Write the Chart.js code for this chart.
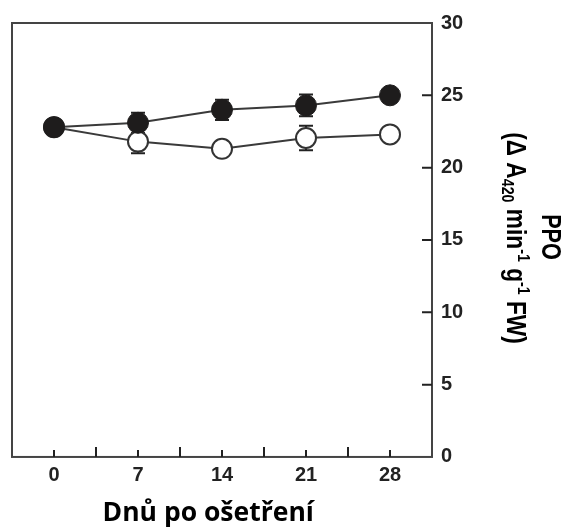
<!DOCTYPE html>
<html>
<head>
<meta charset="utf-8">
<script src="https://cdn.jsdelivr.net/npm/chart.js@4.4.1/dist/chart.umd.min.js"></script>
<style>
  html, body { margin: 0; padding: 0; background: #fff; }
  #wrap { width: 566px; height: 531px; }
</style>
</head>
<body>
<div id="wrap"><canvas id="myChart" width="566" height="531"></canvas></div>
<script>
// days after treatment
const days = [0, 7, 14, 21, 28];
// PPO activity, filled circles / open circles
const filledVals = [22.8, 23.1, 24.0, 24.3, 25.0];
const filledErr = [0.0, 0.7, 0.7, 0.75, 0.3];
const openVals = [22.8, 21.8, 21.3, 22.05, 22.3];
const openErr = [0.0, 0.8, 0.3, 0.85, 0.3];
const xLabelDays = [0, 7, 14, 21, 28];
const yTicks = [0, 5, 10, 15, 20, 25, 30];

// y axis title, pieces with sub/superscripts
const yTitle1 = [{ t: "PPO" }];
const yTitle2 = [
  { t: "(Δ A" }, { t: "420", sub: true }, { t: " min" }, { t: "-1", sup: true },
  { t: " g" }, { t: "-1", sup: true }, { t: " FW)" }
];

const ink = "#222222";
const lineCol = "#3a3a3a";
const arial = "'Liberation Sans', Arial, sans-serif";

// error bars drawn behind the markers
const errorBars = {
  id: "errorBars",
  beforeDatasetsDraw(chart) {
    const ctx = chart.ctx;
    const x = chart.scales.x, y = chart.scales.y;
    const sets = [[filledVals, filledErr], [openVals, openErr]];
    ctx.save();
    ctx.strokeStyle = ink;
    ctx.lineWidth = 2;
    sets.forEach(function (s) {
      days.forEach(function (d, i) {
        if (!s[1][i]) return;
        const px = x.getPixelForValue(d);
        const top = y.getPixelForValue(s[0][i] + s[1][i]);
        const bot = y.getPixelForValue(s[0][i] - s[1][i]);
        ctx.beginPath();
        ctx.moveTo(px, top); ctx.lineTo(px, bot);
        ctx.moveTo(px - 7, top); ctx.lineTo(px + 7, top);
        ctx.moveTo(px - 7, bot); ctx.lineTo(px + 7, bot);
        ctx.stroke();
      });
    });
    ctx.restore();
  }
};

// condensed rotated title with sub/superscripts
function drawRich(ctx, parts, cx, cy, size, sx) {
  const big = "bold " + size + "px " + arial;
  const small = "bold " + Math.round(size * 0.62) + "px " + arial;
  let w = 0;
  parts.forEach(function (p) {
    ctx.font = (p.sub || p.sup) ? small : big;
    p.w = ctx.measureText(p.t).width;
    w += p.w;
  });
  ctx.save();
  ctx.translate(cx, cy);
  ctx.rotate(Math.PI / 2);
  ctx.scale(sx, 1);
  ctx.fillStyle = "#000";
  ctx.textBaseline = "alphabetic";
  let pos = -w / 2;
  const base = size * 0.36;
  parts.forEach(function (p) {
    ctx.font = (p.sub || p.sup) ? small : big;
    let dy = base;
    if (p.sub) dy += size * 0.2;
    if (p.sup) dy -= size * 0.4;
    ctx.fillText(p.t, pos, dy);
    pos += p.w;
  });
  ctx.restore();
}

// frame, inward tick marks, y title
const frame = {
  id: "frame",
  afterDraw(chart) {
    const ctx = chart.ctx;
    const a = chart.chartArea;
    const x = chart.scales.x, y = chart.scales.y;
    ctx.save();
    ctx.strokeStyle = "#444";
    ctx.lineWidth = 2;
    ctx.strokeRect(a.left, a.top, a.right - a.left, a.bottom - a.top);
    ctx.strokeStyle = ink;
    ctx.lineWidth = 2;
    ctx.beginPath();
    x.ticks.forEach(function (t) {
      if (t.value <= x.min || t.value >= x.max) return;
      const px = x.getPixelForValue(t.value);
      const len = xLabelDays.includes(t.value) ? 7 : 10;
      ctx.moveTo(px, a.bottom); ctx.lineTo(px, a.bottom - len);
    });
    y.ticks.forEach(function (t) {
      if (t.value <= y.min || t.value >= y.max) return;
      const py = y.getPixelForValue(t.value);
      ctx.moveTo(a.right, py); ctx.lineTo(a.right - 10, py);
    });
    ctx.stroke();
    ctx.restore();
    const cy = (a.top + a.bottom) / 2 - 3;
    drawRich(ctx, yTitle1, y.right - 14, cy, 27, 0.8);
    drawRich(ctx, yTitle2, y.right - 49, cy + 1, 27, 0.84);
  }
};

const data = {
  datasets: [
    {
      label: "open",
      data: days.map(function (d, i) { return { x: d, y: openVals[i] }; }),
      borderColor: lineCol,
      borderWidth: 2,
      pointRadius: 10,
      pointBorderWidth: 2,
      pointBackgroundColor: "#ffffff",
      pointBorderColor: "#333333",
      order: 2
    },
    {
      label: "filled",
      data: days.map(function (d, i) { return { x: d, y: filledVals[i] }; }),
      borderColor: lineCol,
      borderWidth: 2,
      pointRadius: 10.5,
      pointBorderWidth: 1,
      pointBackgroundColor: "#1e1c1c",
      pointBorderColor: "#1e1c1c",
      order: 1
    }
  ]
};

const config = {
  type: "line",
  data: data,
  options: {
    responsive: false,
    animation: false,
    layout: { padding: { left: 12, top: 23, right: 0, bottom: 0 } },
    plugins: { legend: { display: false }, tooltip: { enabled: false } },
    scales: {
      x: {
        type: "linear",
        min: -3.5,
        max: 31.5,
        grid: { display: false, drawTicks: false },
        border: { display: false },
        ticks: {
          stepSize: 3.5,
          padding: 7,
          color: ink,
          font: { family: arial, size: 20, weight: "bold" },
          callback: function (v) { return xLabelDays.includes(v) ? String(v) : ""; },
          maxRotation: 0,
          autoSkip: false
        },
        title: {
          display: true,
          text: "Dnů po ošetření\u00a0\u00a0\u00a0\u00a0",
          color: "#000",
          font: { family: "'Open Sans', sans-serif", size: 26.5, weight: "bold", lineHeight: 1.1 },
          padding: { top: 3.5, bottom: 3.4 }
        }
      },
      y: {
        position: "right",
        min: 0,
        max: 30,
        afterBuildTicks: function (s) { s.ticks = yTicks.map(function (v) { return { value: v }; }); },
        afterFit: function (s) { s.width = 134; },
        grid: { display: false, drawTicks: false },
        border: { display: false },
        ticks: {
          padding: 9,
          color: ink,
          font: { family: arial, size: 20, weight: "bold" }
        }
      }
    }
  },
  plugins: [errorBars, frame]
};

const myChart = new Chart(document.getElementById("myChart"), config);
</script>
</body>
</html>
